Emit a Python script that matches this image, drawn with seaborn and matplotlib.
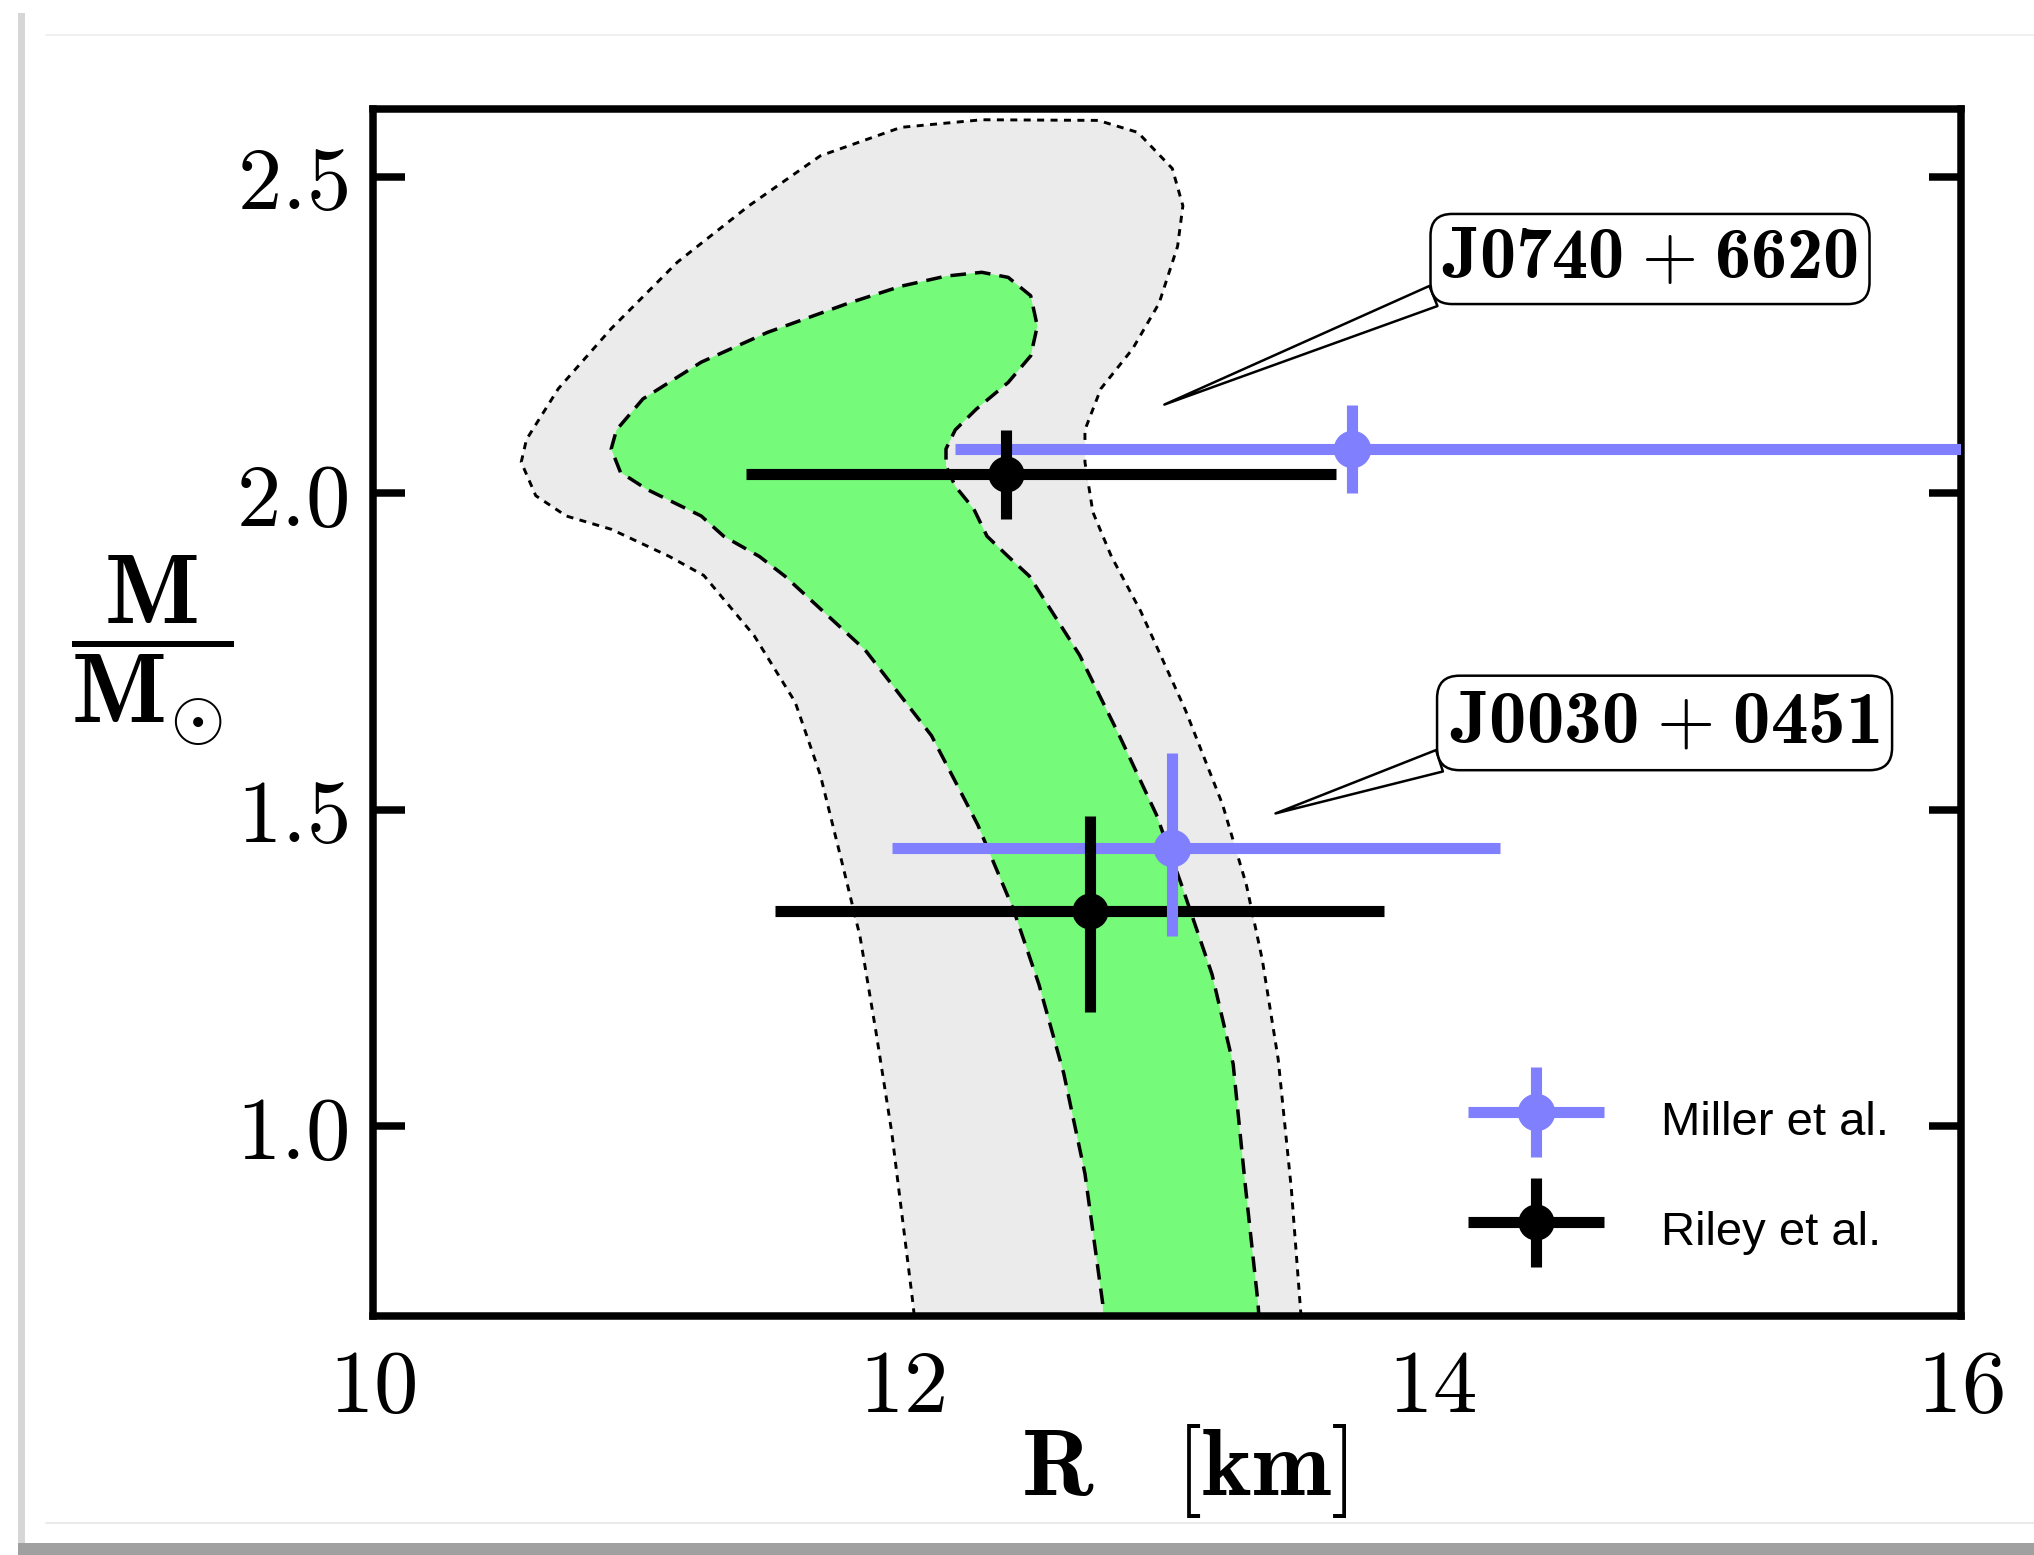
import matplotlib
matplotlib.use("Agg")
import matplotlib.pyplot as plt
from matplotlib.patches import Rectangle
from matplotlib.lines import Line2D
from matplotlib.container import ErrorbarContainer
from matplotlib.legend_handler import HandlerErrorbar
import seaborn as sns

# ---------------- data ----------------
# 2-sigma (outer, grey) and 1-sigma (inner, green) mass-radius contours
R_outer = [12.05, 12.04, 11.96, 11.90, 11.84, 11.77, 11.69, 11.595, 11.44, 11.25,
           11.12, 10.90, 10.73, 10.615, 10.56, 10.58, 10.70, 10.90, 11.15, 11.42,
           11.69, 11.995, 12.30, 12.74, 12.89, 13.02, 13.06, 13.04, 12.97, 12.87,
           12.75, 12.69, 12.69, 12.72, 12.79, 12.90, 13.07, 13.21, 13.30, 13.36,
           13.42, 13.47, 13.51]
M_outer = [0.68, 0.72, 0.99, 1.15, 1.30, 1.42, 1.555, 1.67, 1.775, 1.87,
           1.90, 1.943, 1.964, 1.996, 2.049, 2.085, 2.165, 2.26, 2.365, 2.454,
           2.533, 2.578, 2.590, 2.589, 2.570, 2.513, 2.454, 2.39, 2.30, 2.228,
           2.165, 2.10, 2.049, 1.97, 1.90, 1.814, 1.657, 1.508, 1.381, 1.263,
           1.106, 0.90, 0.68]

R_inner = [12.76, 12.757, 12.69, 12.61, 12.516, 12.42, 12.285, 12.11, 11.86, 11.556,
           11.46, 11.325, 11.24, 11.035, 10.935, 10.90, 10.92, 11.02, 11.24, 11.49,
           11.795, 11.995, 12.165, 12.30, 12.40, 12.485, 12.51, 12.485, 12.40, 12.28,
           12.20, 12.165, 12.165, 12.20, 12.27, 12.32, 12.40, 12.48, 12.67, 12.82,
           12.96, 13.055, 13.17, 13.25, 13.295, 13.344, 13.35]
M_inner = [0.68, 0.72, 0.925, 1.083, 1.224, 1.342, 1.476, 1.617, 1.752, 1.869,
           1.90, 1.932, 1.964, 2.006, 2.033, 2.07, 2.10, 2.149, 2.207, 2.254,
           2.30, 2.327, 2.343, 2.349, 2.341, 2.312, 2.264, 2.217, 2.175, 2.133,
           2.10, 2.07, 2.043, 2.011, 1.975, 1.932, 1.90, 1.869, 1.744, 1.617,
           1.492, 1.381, 1.24, 1.098, 0.91, 0.72, 0.68]

# NICER measurements: [J0740+6620, J0030+0451]
R_miller = [13.70, 13.02]
R_miller_lo = [1.50, 1.06]
R_miller_hi = [2.60, 1.24]
M_miller = [2.07, 1.44]
M_miller_lo = [0.07, 0.14]
M_miller_hi = [0.07, 0.15]

R_riley = [12.39, 12.71]
R_riley_lo = [0.98, 1.19]
R_riley_hi = [1.25, 1.11]
M_riley = [2.03, 1.34]
M_riley_lo = [0.07, 0.16]
M_riley_hi = [0.07, 0.15]

pulsar_names = [r"$\mathbf{J0740}\hspace{0.07}+\hspace{0.07}\mathbf{6620}$",
                r"$\mathbf{J0030}\hspace{0.07}+\hspace{0.07}\mathbf{0451}$"]
pulsar_tips = [(12.99, 2.14), (13.41, 1.494)]
pulsar_text_pos = [(14.825, 2.370), (14.88, 1.637)]
pulsar_fontsize = [26, 27]
pulsar_pad = [0.16, 0.17]

x_ticks = [10, 12, 14, 16]
x_tick_labels = ["$10$", "$12$", "$14$", "$16$"]
y_ticks = [1.0, 1.5, 2.0, 2.5]
y_tick_labels = ["$1.0$", "$1.5$", "$2.0$", "$2.5$"]

# ---------------- style ----------------
sns.set_style("ticks")
plt.rcParams["font.family"] = ["Liberation Sans", "DejaVu Sans"]
plt.rcParams["mathtext.fontset"] = "custom"
plt.rcParams["mathtext.rm"] = "cmr10"
plt.rcParams["mathtext.it"] = "cmmi10"
plt.rcParams["mathtext.bf"] = "cmb10"
plt.rcParams["mathtext.cal"] = "cmsy10"
plt.rcParams["mathtext.fallback"] = "cm"
for key in ("text.color", "axes.labelcolor", "xtick.color", "ytick.color",
            "axes.edgecolor"):
    plt.rcParams[key] = "black"

BLUE = "#8080ff"
GREEN = "#76fa7a"
GREY = "#ebebeb"

W, H = 2034, 1555
fig = plt.figure(figsize=(W / 200, H / 200), dpi=200)
fig.patch.set_facecolor("white")

# window-style frame: soft shadow on the left and bottom edges
fig.patches.append(Rectangle((18 / W, 12 / H), 7 / W, 1 - 25 / H,
                             transform=fig.transFigure, color="#d6d6d6",
                             zorder=-5, lw=0))
fig.patches.append(Rectangle((18 / W, 0), 1, 12 / H,
                             transform=fig.transFigure, color="#a0a0a0",
                             zorder=-5, lw=0))
fig.lines.append(Line2D([46 / W, 1], [1 - 35 / H, 1 - 35 / H],
                        transform=fig.transFigure, color="#eeeeee", lw=0.6))
fig.lines.append(Line2D([46 / W, 1], [32 / H, 32 / H],
                        transform=fig.transFigure, color="#e6e6e6", lw=0.6))

ax = fig.add_axes([373 / W, 1 - 1316 / H, (1961 - 373) / W, (1316 - 109) / H])
ax.set_facecolor("white")

# ---------------- contours ----------------
ax.fill(R_outer, M_outer, color=GREY, lw=0, zorder=1)
ax.fill(R_inner, M_inner, color=GREEN, lw=0, zorder=1.1)
sns.lineplot(x=R_outer, y=M_outer, sort=False, estimator=None, color="black",
             linewidth=1.05, linestyle=(0, (2.4, 2.2)), ax=ax, zorder=2)
sns.lineplot(x=R_inner, y=M_inner, sort=False, estimator=None, color="black",
             linewidth=1.25, linestyle=(0, (4.5, 2.6)), ax=ax, zorder=2)

# ---------------- measurements ----------------
eb_m = ax.errorbar(R_miller, M_miller, xerr=[R_miller_lo, R_miller_hi],
                   yerr=[M_miller_lo, M_miller_hi], fmt="o", color=BLUE,
                   ms=12.5, elinewidth=4, capsize=0, label="Miller et al.")
eb_r = ax.errorbar(R_riley, M_riley, xerr=[R_riley_lo, R_riley_hi],
                   yerr=[M_riley_lo, M_riley_hi], fmt="o", color="black",
                   ms=12, elinewidth=4, capsize=0, label="Riley et al.")
for eb in (eb_m, eb_r):
    eb[2][0].set_zorder(3)
    eb[2][1].set_zorder(4)
    eb[0].set_zorder(4.5)

# ---------------- annotations ----------------
for name, tip, pos, fs, pad in zip(pulsar_names, pulsar_tips, pulsar_text_pos,
                                   pulsar_fontsize, pulsar_pad):
    ax.annotate(name, xy=tip, xytext=pos, xycoords="data", textcoords="data",
                ha="center", va="center", fontsize=fs, zorder=6,
                bbox=dict(boxstyle=f"round,pad={pad},rounding_size=0.3",
                          fc="white", ec="black", lw=0.9),
                arrowprops=dict(arrowstyle="wedge,tail_width=0.3",
                                fc="white", ec="black", lw=0.9,
                                relpos=(0.0, 0.0), shrinkA=0, shrinkB=0))

# ---------------- axes ----------------
ax.set_xlim(10, 16)
ax.set_ylim(0.70, 2.607)
ax.set_xticks(x_ticks, labels=x_tick_labels)
ax.set_yticks(y_ticks, labels=y_tick_labels)
for s in ax.spines.values():
    s.set_linewidth(2.7)
    s.set_color("black")
ax.tick_params(axis="y", which="major", direction="in", length=11.5, width=2.7,
               left=True, right=True, labelsize=32, pad=9, color="black",
               labelcolor="black")
ax.tick_params(axis="x", which="major", length=0, labelsize=32, pad=11,
               labelcolor="black")
ax.minorticks_off()

ax.set_xlabel(r"$\mathbf{R}\quad[\mathbf{km}]$", fontsize=34, labelpad=-3,
              x=0.511, ha="center")
ax.set_ylabel(r"$\dfrac{\mathbf{M}}{\mathbf{M}_{\odot}}$", fontsize=36,
              rotation=0, ha="center", va="center")
ax.yaxis.set_label_coords(-0.139, 0.551)

# ---------------- legend ----------------
ax.legend(handles=[eb_m, eb_r], labels=["Miller et al.", "Riley et al."],
          loc="center", bbox_to_anchor=(0.822, 0.117), frameon=False,
          fontsize=17, handlelength=2.9, handleheight=1.6, labelspacing=1.05,
          handletextpad=1.2,
          handler_map={ErrorbarContainer: HandlerErrorbar(xerr_size=1.45,
                                                          yerr_size=0.95)})

fig.savefig("out.png", dpi=200)
